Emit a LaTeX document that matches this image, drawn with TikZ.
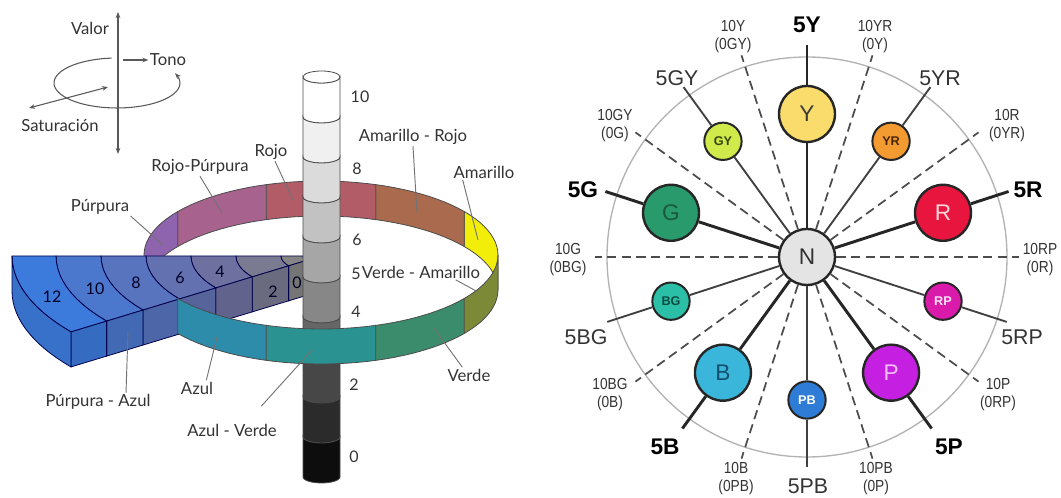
\documentclass[tikz,border=0pt]{standalone}
\usepackage{fontspec}
\setmainfont{Liberation Sans}
\newfontfamily\gillfont{Lato}
\newfontfamily\narrowfont[FakeStretch=0.86]{Liberation Sans}
\usepackage{tikz}
\usetikzlibrary{calc}
\usetikzlibrary{arrows.meta}

\definecolor{amarillo}{HTML}{F2EE0A}
\definecolor{amarilloRojo}{HTML}{AA6A4E}
\definecolor{rojo}{HTML}{B25C68}
\definecolor{rojoPurpura}{HTML}{A8628E}
\definecolor{purpura}{HTML}{8E64AE}
\definecolor{azul}{HTML}{2C8CAA}
\definecolor{azulVerde}{HTML}{2A9290}
\definecolor{verde}{HTML}{3A8C6C}
\definecolor{verdeAmarillo}{HTML}{7C8A38}
\definecolor{slab0}{HTML}{858585}
\definecolor{slab2}{HTML}{7A7A90}
\definecolor{slab4}{HTML}{6E71A0}
\definecolor{slab6}{HTML}{6371B0}
\definecolor{slab8}{HTML}{5874BE}
\definecolor{slab10}{HTML}{4B77CC}
\definecolor{slab12}{HTML}{3C7BDC}
\definecolor{hN}{HTML}{E4E4E4}
\definecolor{hY}{HTML}{F9DC6C}
\definecolor{hGY}{HTML}{D0EA4C}
\definecolor{hYR}{HTML}{F39A30}
\definecolor{hR}{HTML}{E8163E}
\definecolor{hRP}{HTML}{DA1AAA}
\definecolor{hP}{HTML}{C520E2}
\definecolor{hPB}{HTML}{2E7CD6}
\definecolor{hB}{HTML}{3AB6DA}
\definecolor{hBG}{HTML}{2CBFA8}
\definecolor{hG}{HTML}{289A6C}
\definecolor{tY}{HTML}{3A3A3A}
\definecolor{tGY}{HTML}{36460E}
\definecolor{tYR}{HTML}{4A2600}
\definecolor{tR}{HTML}{FFD4DA}
\definecolor{tRP}{HTML}{FFE6F4}
\definecolor{tP}{HTML}{F4BEF6}
\definecolor{tPB}{HTML}{FFFFFF}
\definecolor{tB}{HTML}{15506E}
\definecolor{tBG}{HTML}{0E4E42}
\definecolor{tG}{HTML}{1A5A3C}

\tikzset{
  lbl/.style={font=\gillfont\fontsize{12.5}{14}\selectfont, text=black!80, inner sep=1pt},
  num/.style={font=\gillfont\fontsize{12}{14}\selectfont, text=black!80, inner sep=1pt},
  slabnum/.style={font=\gillfont\fontsize{12}{14}\selectfont, text=black!85!blue, inner sep=1pt},
  leader/.style={draw=black!55, line width=0.7pt},
  icon/.style={draw=black!65, line width=0.8pt},
  ring/.style={draw=black!70, line width=0.6pt},
  cyl/.style={draw=black!70, line width=0.6pt},
  slabedge/.style={draw=black!70!blue, line width=0.6pt},
  hue/.style={circle, draw=black!85, line width=1.8pt, minimum size=42pt, inner sep=0pt, font=\fontsize{17}{20}\selectfont},
  subhue/.style={circle, draw=black!85, line width=1.5pt, minimum size=28pt, inner sep=0pt, font=\bfseries\fontsize{9.5}{11}\selectfont},
  spoke/.style={draw=black!85, line width=2.2pt},
  subspoke/.style={draw=black!75, line width=1.4pt},
  bndline/.style={draw=black!70, line width=1.3pt, dash pattern=on 7pt off 4pt},
  hutag/.style={font=\bfseries\fontsize{17}{20}\selectfont, inner sep=0pt},
  subtag/.style={font=\fontsize{16}{18}\selectfont, text=black!80, inner sep=0pt},
  bndtag/.style={font=\narrowfont\fontsize{12}{13.5}\selectfont, text=black!80, align=center, inner sep=0pt}
}

\begin{document}
\begin{tikzpicture}[x=0.75pt, y=-0.75pt, >={Stealth[length=4.5pt,width=3.5pt]}]
\useasboundingbox (0,0) rectangle (1061,498);

% valor, tono, saturacion
\coordinate (vtop) at (118,12);
\coordinate (vbot) at (118,154);
\coordinate (tstart) at (123,60);
\coordinate (stip) at (108,87);
\coordinate (send) at (29,108);
\draw[icon, ->] plot[domain=95:383, samples=60] ({117+63*cos(\x)},{83-25*sin(\x)});
\draw[icon, <->] (vtop) -- (vbot);
\node[lbl] (valor) at (90,28) {Valor};
\node[lbl] (tono) at (168,60) {Tono};
\node[lbl] (satur) at (60,125) {Saturación};
\draw[icon, ->] (tstart) -- (tono);
\draw[icon, <->] (stip) -- (send);

% back of the hue ring
\foreach \ta/\col [evaluate=\ta as \tb using int(\ta+36)] in {0/amarillo, 36/amarilloRojo, 72/rojo, 108/rojoPurpura, 144/purpura}
  \filldraw[ring, fill=\col] plot[domain=\ta:\tb, samples=12] ({321+177*cos(\x)},{255-74*sin(\x)})
    -- plot[domain=\tb:\ta, samples=12] ({321+177*cos(\x)},{290-74*sin(\x)}) -- cycle;

% chroma slab
\foreach \ra/\rb/\col in {18/40/slab0, 40/85/slab2, 85/130/slab4, 130/175/slab6, 175/220/slab8, 220/265/slab10, 265/309/slab12}{
  \filldraw[slabedge, fill=\col] plot[domain=180:216, samples=12] ({321+\rb*cos(\x)},{256-0.418*\rb*sin(\x)})
    -- plot[domain=216:180, samples=12] ({321+\ra*cos(\x)},{256-0.418*\ra*sin(\x)}) -- cycle;
  \filldraw[slabedge, fill=\col!88!black] ({321+\ra*cos(216)},{256-0.418*\ra*sin(216)}) -- ({321+\rb*cos(216)},{256-0.418*\rb*sin(216)})
    -- ({321+\rb*cos(216)},{291-0.418*\rb*sin(216)}) -- ({321+\ra*cos(216)},{291-0.418*\ra*sin(216)}) -- cycle;
}
\filldraw[slabedge, fill=slab12!92!black] plot[domain=180:216, samples=16] ({321+309*cos(\x)},{256-129.2*sin(\x)})
  -- plot[domain=216:180, samples=16] ({321+309*cos(\x)},{291-129.2*sin(\x)}) -- cycle;

% value axis
\foreach \i/\g in {0/white, 1/black!6, 2/black!14, 3/black!24, 4/black!35, 5/black!47, 6/black!60, 7/black!72, 8/black!83, 9/black!95}{
  \pgfmathsetmacro\ya{77+40*\i}
  \pgfmathsetmacro\yb{117+40*\i}
  \filldraw[cyl, fill=\g] plot[domain=180:360, samples=16] ({321.5+18.5*cos(\x)},{\ya-6*sin(\x)})
    -- plot[domain=360:180, samples=16] ({321.5+18.5*cos(\x)},{\yb-6*sin(\x)}) -- cycle;
}
\filldraw[cyl, fill=white] (321.5,77) ellipse [x radius=18.5, y radius=6];

% front of the hue ring
\foreach \ta/\col [evaluate=\ta as \tb using int(\ta+36)] in {216/azul, 252/azulVerde, 288/verde, 324/verdeAmarillo}
  \filldraw[ring, fill=\col] plot[domain=\ta:\tb, samples=12] ({321+177*cos(\x)},{255-74*sin(\x)})
    -- plot[domain=\tb:\ta, samples=12] ({321+177*cos(\x)},{290-74*sin(\x)}) -- cycle;

\node[num] (v10) at (360,97) {10};
\node[num] (v8) at (357,169) {8};
\node[num] (v6) at (357,240) {6};
\node[num] (v5) at (356,274) {5};
\node[num] (v4) at (356,312) {4};
\node[num] (v2) at (354,385) {2};
\node[num] (v0) at (354,457) {0};

\node[slabnum] (c12) at (52,297) {12};
\node[slabnum] (c10) at (95,289) {10};
\node[slabnum] (c8) at (136,283) {8};
\node[slabnum] (c6) at (180,278) {6};
\node[slabnum] (c4) at (220,272) {4};
\node[slabnum] (c2) at (273,292) {2};
\node[slabnum] (c0) at (297,283) {0};

\node[lbl] (lpurpura) at (100,207) {Púrpura};
\node[lbl] (lrojopurp) at (200,167) {Rojo-Púrpura};
\node[lbl] (lrojo) at (271,152) {Rojo};
\node[lbl] (lamarojo) at (413,137) {Amarillo - Rojo};
\node[lbl] (lamarillo) at (484,172) {Amarillo};
\node[lbl] (lverdeama) at (421,272) {Verde - Amarillo};
\node[lbl] (lverde) at (469,375) {Verde};
\node[lbl] (lazulverde) at (232,430) {Azul - Verde};
\node[lbl] (lazul) at (197,388) {Azul};
\node[lbl] (lpurpazul) at (98,402) {Púrpura - Azul};

\coordinate (ppurpura) at (163,245);
\coordinate (projopurp) at (222,213);
\coordinate (projo) at (293,200);
\coordinate (pamarojo) at (417,213);
\coordinate (pamarillo) at (478,240);
\coordinate (pverdeama) at (478,292);
\coordinate (pverde) at (433,327);
\coordinate (pazulverde) at (312,350);
\coordinate (pazul) at (217,337);
\coordinate (ppurpazul) at (128,332);

\draw[leader] (lpurpura.south east) -- (ppurpura);
\draw[leader] (lrojopurp.south) -- (projopurp);
\draw[leader] ([xshift=3pt]lrojo.south) -- (projo);
\draw[leader] (lamarojo.south) -- (pamarojo);
\draw[leader] ([xshift=-16pt]lamarillo.south) -- (pamarillo);
\draw[leader] ([xshift=26pt]lverdeama.south) -- (pverdeama);
\draw[leader] ([xshift=-5pt]lverde.north) -- (pverde);
\draw[leader] ([xshift=22pt,yshift=12pt]lazulverde.north) -- (pazulverde);
\draw[leader] ([xshift=7pt]lazul.north) -- (pazul);
\draw[leader] ([xshift=21pt]lpurpazul.north) -- (ppurpazul);

% hue circle
\draw[black!30, line width=1pt] (807,257) circle [radius=200];
\node[hue, fill=hN, text=black!80] (N) at (807,257) {N};

\foreach \lab/\zero/\a/\px/\py in {10Y/0GY/108/733/37, 10YR/0Y/72/875/37, 10GY/0G/144/615/126, 10R/0YR/36/1007/126,
    10G/0BG/180/568/260, 10RP/0R/0/1040/260, 10BG/0B/-144/610/395, 10P/0RP/-36/998/395, 10B/0PB/-108/736/479, 10PB/0P/-72/876/479}{
  \coordinate (e\lab) at ({807+212*cos(\a)},{257-212*sin(\a)});
  \draw[bndline] (N) -- (e\lab);
  \node[bndtag] (b\lab) at (\px,\py) {\lab\\(\zero)};
}

\foreach \h/\a/\col/\tc/\px/\py in {Y/90/hY/tY/807/25, R/18/hR/tR/1028/190, G/162/hG/tG/583/190, B/-126/hB/tB/665/447, P/-54/hP/tP/949/447}{
  \node[hue, fill=\col, text=\tc] (\h) at ({807+143*cos(\a)},{257-143*sin(\a)}) {\h};
  \coordinate (o\h) at ({807+212*cos(\a)},{257-212*sin(\a)});
  \draw[spoke] (N) -- (\h);
  \draw[spoke] (\h) -- (o\h);
  \node[hutag] (t\h) at (\px,\py) {5\h};
}

\foreach \h/\a/\col/\tc/\px/\py in {GY/126/hGY/tGY/677/78, YR/54/hYR/tYR/940/78, BG/-162/hBG/tBG/586/337, RP/-18/hRP/tRP/1022/337, PB/-90/hPB/tPB/808/486}{
  \node[subhue, fill=\col, text=\tc] (\h) at ({807+143*cos(\a)},{257-143*sin(\a)}) {\h};
  \coordinate (o\h) at ({807+210*cos(\a)},{257-210*sin(\a)});
  \draw[subspoke] (N) -- (\h);
  \draw[subspoke] (\h) -- (o\h);
  \node[subtag] (t\h) at (\px,\py) {5\h};
}
\end{tikzpicture}
\end{document}
